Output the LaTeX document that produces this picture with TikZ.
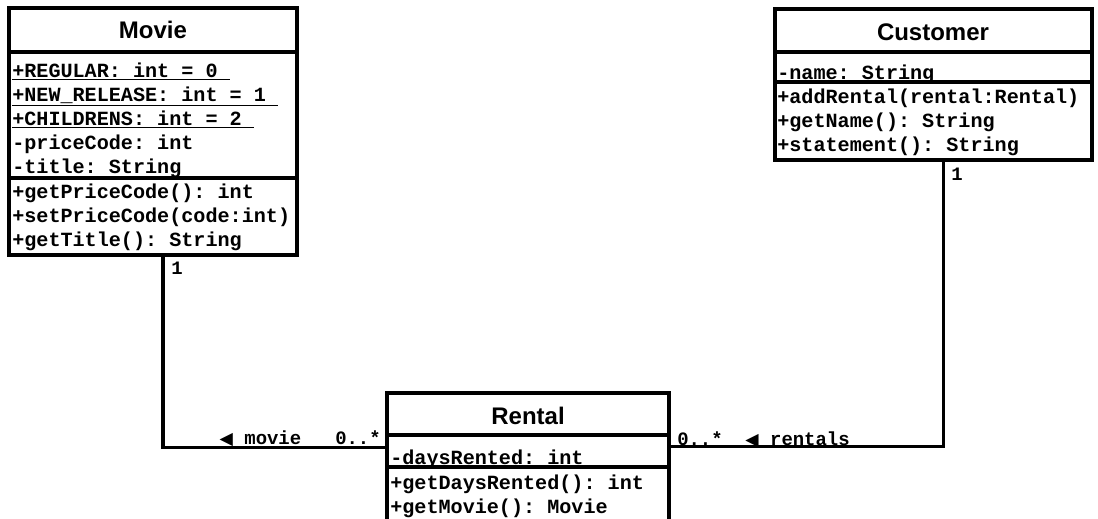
\documentclass[tikz,border=0pt]{standalone}
\usepackage{fontspec}
\setmainfont{Liberation Sans}
\setmonofont{Liberation Mono}
\newfontfamily\symfont{DejaVu Sans}
\usetikzlibrary{positioning, fit, calc}

\tikzset{
  classbox/.style={draw=black, line width=2.4pt, inner sep=0pt},
  sepline/.style={line width=2.4pt},
  ctitle/.style={font=\fontsize{18}{20}\selectfont\bfseries, anchor=base, inner sep=0pt},
  member/.style={font=\fontsize{15.1}{17}\selectfont\ttfamily\bfseries, anchor=base west, inner sep=0pt},
  mult/.style={font=\fontsize{14.2}{16}\selectfont\ttfamily\bfseries, inner sep=0pt},
  assoc/.style={line width=2.4pt},
}
\newcommand{\lefttri}{{\symfont\fontsize{13}{14}\selectfont ◀}}

\begin{document}
\begin{tikzpicture}[x=0.75pt, y=-0.75pt]

  \useasboundingbox (0,0) rectangle (1098,518);
  \clip (0,0) rectangle (1098,518);

  % class Movie
  \node[classbox, fit={(9,8) (297,255)}] (movie) {};
  \draw[sepline] (9,52) -- (297,52);
  \node[ctitle] (movietitle) at (153,38) {Movie};
  \node[member] (mregular) at (12,77)  {\underline{+REGULAR: int = 0\ }};
  \node[member] (mnewrel)  at (12,101) {\underline{+NEW\_RELEASE: int = 1\ }};
  \node[member] (mchild)   at (12,125) {\underline{+CHILDRENS: int = 2\ }};
  \node[member] (mprice)   at (12,149) {-priceCode: int};
  \node[member] (mtitle)   at (12,173) {-title: String};
  \node[member] (mgetpc)   at (12,198) {+getPriceCode(): int};
  \node[member] (msetpc)   at (12,222) {+setPriceCode(code:int)};
  \node[member] (mgett)    at (12,246) {+getTitle(): String};
  \draw[sepline] (9,178) -- (297,178);

  % class Customer
  \node[classbox, fit={(775,9) (1092,160)}] (customer) {};
  \draw[sepline] (775,52) -- (1092,52);
  \node[ctitle] (custtitle) at (933,40) {Customer};
  \node[member] (cname)  at (777,79)  {-name: String};
  \draw[sepline] (775,82) -- (1092,82);
  \node[member] (cadd)   at (777,103) {+addRental(rental:Rental)};
  \node[member] (cgetn)  at (777,127) {+getName(): String};
  \node[member] (cstmt)  at (777,151) {+statement(): String};

  % class Rental
  \node[classbox, fit={(387,393) (669,560)}] (rental) {};
  \draw[sepline] (387,435) -- (669,435);
  \node[ctitle] (renttitle) at (528,424) {Rental};
  \node[member] (rdays)  at (390,464) {-daysRented: int};
  \draw[sepline] (387,467) -- (669,467);
  \node[member] (rgetd)  at (390,489) {+getDaysRented(): int};
  \node[member] (rgetm)  at (390,513) {+getMovie(): Movie};

  % associations
  \draw[assoc] ($(movie.south)+(10,0)$) |- ($(rental.north west)+(0,56)$);
  \draw[assoc] ($(customer.south)+(10,0)$) |- ($(rental.north east)+(0,55)$);

  \node[mult, anchor=base west] (m1) at (171,274) {1};
  \node[mult, anchor=base west] (c1) at (951,180) {1};
  \node[mult, anchor=base east] (mvlab) at (381,444) {\lefttri\ movie\ \ \ 0..*};
  \node[mult, anchor=base west] (rtlab) at (677,445) {0..*\ \ \lefttri\ rentals};

\end{tikzpicture}
\end{document}
